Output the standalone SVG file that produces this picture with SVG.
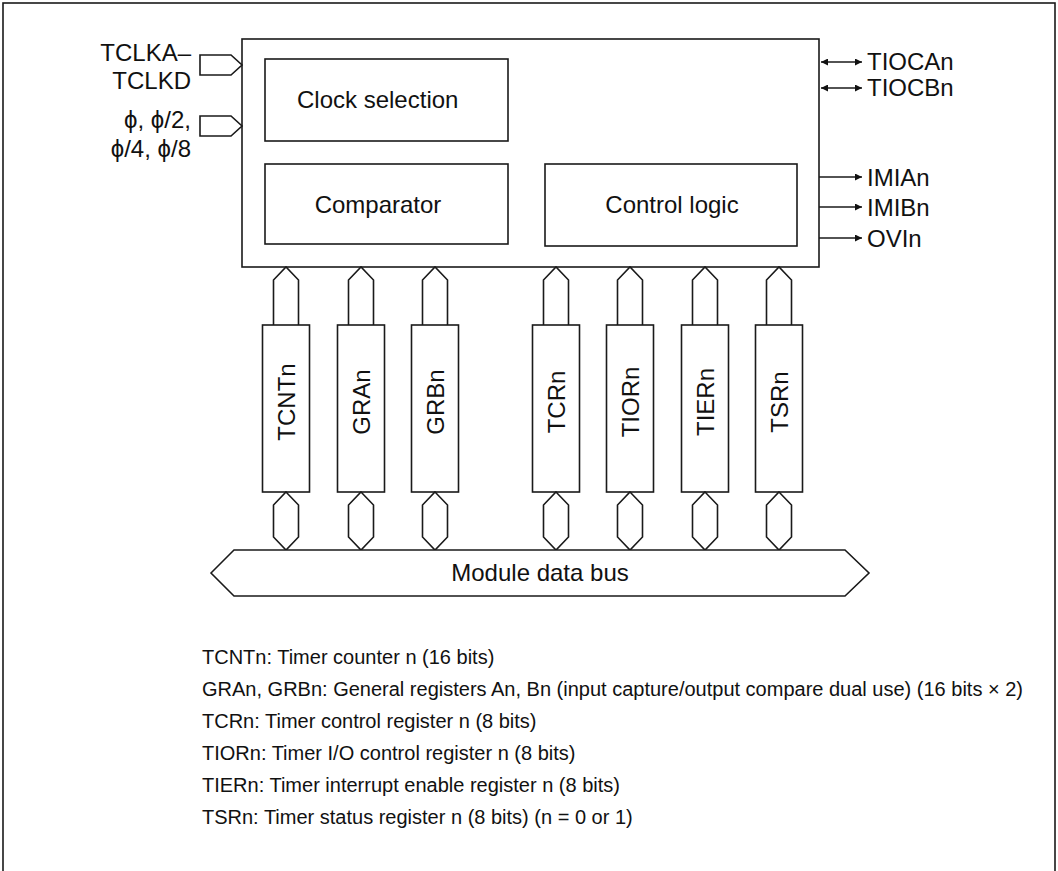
<svg xmlns="http://www.w3.org/2000/svg" width="1058" height="871" viewBox="0 0 1058 871">
<style>
.ln{fill:none;stroke:#1a1a1a;stroke-width:1.6}
.bx{fill:#fff;stroke:#1a1a1a;stroke-width:1.6}
.t{font-family:"Liberation Sans",Arial,sans-serif;font-size:24px;fill:#111}
.lg{font-family:"Liberation Sans",Arial,sans-serif;font-size:20px;fill:#111}
.ar{fill:none;stroke:#1a1a1a;stroke-width:1.4}
</style>
<defs>
<marker id="ah" viewBox="0 0 10 10" refX="10" refY="5" markerWidth="10" markerHeight="7" markerUnits="userSpaceOnUse" orient="auto-start-reverse">
<path d="M0,0 L10,5 L0,10 z" fill="#111"/>
</marker>
</defs>
<rect x="0" y="0" width="1058" height="871" fill="#fff"/>
<rect x="3" y="3" width="1052" height="880" class="ln"/>

<g id="timer-block">
<rect x="242" y="39" width="577" height="228" class="bx"/>
</g>
<g id="clock-selection">
<rect x="265" y="59" width="243" height="82" class="bx"/>
<text x="297" y="108" class="t">Clock selection</text>
</g>
<g id="comparator">
<rect x="265" y="164" width="243" height="80" class="bx"/>
<text x="378" y="213" class="t" text-anchor="middle">Comparator</text>
</g>
<g id="control-logic">
<rect x="545" y="164" width="252" height="82" class="bx"/>
<text x="672" y="213" class="t" text-anchor="middle">Control logic</text>
</g>

<g id="input-tclk">
<polygon points="200,55 231,55 242,65 231,75 200,75" class="bx"/>
<text x="191" y="61" class="t" text-anchor="end">TCLKA–</text>
<text x="191" y="89" class="t" text-anchor="end">TCLKD</text>
</g>
<g id="input-phi">
<polygon points="200,116 231,116 242,126 231,136 200,136" class="bx"/>
<text x="191" y="128" class="t" text-anchor="end">ϕ, ϕ/2,</text>
<text x="191" y="157" class="t" text-anchor="end">ϕ/4, ϕ/8</text>
</g>

<g id="connectors">
<line x1="821" y1="62" x2="862" y2="62" class="ar" marker-start="url(#ah)" marker-end="url(#ah)"/>
<line x1="821" y1="88" x2="862" y2="88" class="ar" marker-start="url(#ah)" marker-end="url(#ah)"/>
<line x1="819" y1="177" x2="862" y2="177" class="ar" marker-end="url(#ah)"/>
<line x1="819" y1="207" x2="862" y2="207" class="ar" marker-end="url(#ah)"/>
<line x1="819" y1="238" x2="862" y2="238" class="ar" marker-end="url(#ah)"/>
</g>
<g id="outputs">
<text x="867" y="70" class="t">TIOCAn</text>
<text x="867" y="96" class="t">TIOCBn</text>
<text x="867" y="186" class="t">IMIAn</text>
<text x="867" y="216" class="t">IMIBn</text>
<text x="867" y="247" class="t">OVIn</text>
</g>

<g id="reg-tcnt">
<path d="M273.5,325 V280 L286,267 L298.5,280 V325" class="bx"/>
<rect x="262.5" y="325" width="47" height="167" class="bx"/>
<path d="M286,492 L298.5,505 V537 L286,550 L273.5,537 V505 Z" class="bx"/>
<text transform="translate(294.5,402) rotate(-90)" class="t" text-anchor="middle">TCNTn</text>
</g>
<g id="reg-gra">
<path d="M348.5,325 V280 L361,267 L373.5,280 V325" class="bx"/>
<rect x="337.5" y="325" width="47" height="167" class="bx"/>
<path d="M361,492 L373.5,505 V537 L361,550 L348.5,537 V505 Z" class="bx"/>
<text transform="translate(369.5,402) rotate(-90)" class="t" text-anchor="middle">GRAn</text>
</g>
<g id="reg-grb">
<path d="M422.5,325 V280 L435,267 L447.5,280 V325" class="bx"/>
<rect x="411.5" y="325" width="47" height="167" class="bx"/>
<path d="M435,492 L447.5,505 V537 L435,550 L422.5,537 V505 Z" class="bx"/>
<text transform="translate(443.5,402) rotate(-90)" class="t" text-anchor="middle">GRBn</text>
</g>
<g id="reg-tcr">
<path d="M543.5,325 V280 L556,267 L568.5,280 V325" class="bx"/>
<rect x="532.5" y="325" width="47" height="167" class="bx"/>
<path d="M556,492 L568.5,505 V537 L556,550 L543.5,537 V505 Z" class="bx"/>
<text transform="translate(564.5,402) rotate(-90)" class="t" text-anchor="middle">TCRn</text>
</g>
<g id="reg-tior">
<path d="M617.5,325 V280 L630,267 L642.5,280 V325" class="bx"/>
<rect x="606.5" y="325" width="47" height="167" class="bx"/>
<path d="M630,492 L642.5,505 V537 L630,550 L617.5,537 V505 Z" class="bx"/>
<text transform="translate(638.5,402) rotate(-90)" class="t" text-anchor="middle">TIORn</text>
</g>
<g id="reg-tier">
<path d="M692.5,325 V280 L705,267 L717.5,280 V325" class="bx"/>
<rect x="681.5" y="325" width="47" height="167" class="bx"/>
<path d="M705,492 L717.5,505 V537 L705,550 L692.5,537 V505 Z" class="bx"/>
<text transform="translate(713.5,402) rotate(-90)" class="t" text-anchor="middle">TIERn</text>
</g>
<g id="reg-tsr">
<path d="M766.5,325 V280 L779,267 L791.5,280 V325" class="bx"/>
<rect x="755.5" y="325" width="47" height="167" class="bx"/>
<path d="M779,492 L791.5,505 V537 L779,550 L766.5,537 V505 Z" class="bx"/>
<text transform="translate(787.5,402) rotate(-90)" class="t" text-anchor="middle">TSRn</text>
</g>

<g id="module-data-bus">
<polygon points="211,573 234,550 845,550 869,573 845,596 234,596" class="bx"/>
<text x="540" y="581" class="t" text-anchor="middle">Module data bus</text>
</g>

<g id="legend">
<text x="202" y="664" class="lg">TCNTn: Timer counter n (16 bits)</text>
<text x="202" y="696" class="lg">GRAn, GRBn: General registers An, Bn (input capture/output compare dual use) (16 bits × 2)</text>
<text x="202" y="728" class="lg">TCRn: Timer control register n (8 bits)</text>
<text x="202" y="760" class="lg">TIORn: Timer I/O control register n (8 bits)</text>
<text x="202" y="792" class="lg">TIERn: Timer interrupt enable register n (8 bits)</text>
<text x="202" y="824" class="lg">TSRn: Timer status register n (8 bits) (n = 0 or 1)</text>
</g>
</svg>
